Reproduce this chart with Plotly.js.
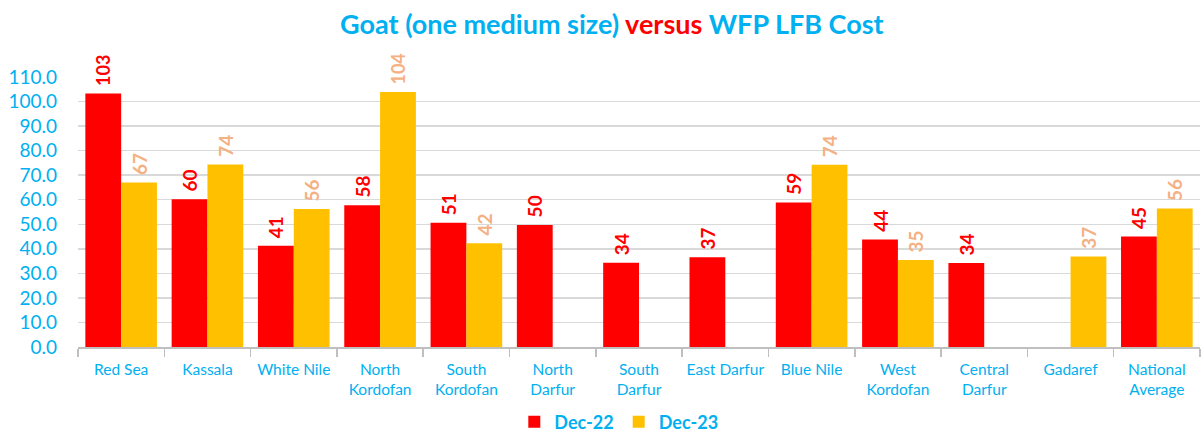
<!DOCTYPE html>
<html>
<head>
<meta charset="utf-8">
<script src="https://cdn.plot.ly/plotly-3.0.1.min.js"></script>
<style>html,body{margin:0;padding:0;background:#fff;}#chart{width:1202px;height:433px;}</style>
</head>
<body>
<div id="chart"></div>
<script>
const categories = ["Red Sea", "Kassala", "White Nile", "North<br>Kordofan", "South<br>Kordofan", "North<br>Darfur", "South<br>Darfur", "East Darfur", "Blue Nile", "West<br>Kordofan", "Central<br>Darfur", "Gadaref", "National<br>Average"];
const dec22 = [103.3, 60.2, 41.2, 57.8, 50.6, 49.7, 34.3, 36.6, 58.9, 43.8, 34.2, null, 45.0];
const dec23 = [67.0, 74.4, 56.2, 103.9, 42.3, null, null, null, 74.2, 35.4, null, 36.9, 56.4];
const yTicks = [0, 10, 20, 30, 40, 50, 60, 70, 80, 90, 100, 110];

const cyan = "#00B0F0";
const FONT = "Lato, 'Open Sans', sans-serif";

function labels(arr) {
  return arr.map(v => v === null ? "" : "\u00a0" + Math.round(v));
}

const traces = [
  {
    type: "bar", name: "Dec-22", x: categories, y: dec22,
    marker: {color: "#FF0000"},
    text: labels(dec22), textposition: "outside", textangle: -90,
    textfont: {family: FONT, size: 19, color: "#FF0000", weight: "bold"},
    cliponaxis: false, hoverinfo: "x+y"
  },
  {
    type: "bar", name: "Dec-23", x: categories, y: dec23,
    marker: {color: "#FFC000"},
    text: labels(dec23), textposition: "outside", textangle: -90,
    textfont: {family: FONT, size: 19, color: "#F4B183", weight: "bold"},
    cliponaxis: false, hoverinfo: "x+y"
  }
];

const layout = {
  width: 1202, height: 433,
  margin: {l: 78, r: 2, t: 77, b: 86},
  paper_bgcolor: "#fff", plot_bgcolor: "#fff",
  font: {family: FONT, color: cyan},
  title: {
    text: "Goat (one medium size) <span style='color:#FF0000'>versus</span> WFP LFB Cost",
    font: {family: FONT, size: 27, color: cyan, weight: "bold"},
    x: 0.509, xref: "container", xanchor: "center", y: 1 - 25/433, yanchor: "middle", yref: "container"
  },
  barmode: "group", bargap: 0.17, bargroupgap: 0,
  xaxis: {
    type: "category", tickson: "boundaries", ticks: "outside", ticklen: 8,
    tickcolor: "#BFBFBF", tickwidth: 1.5, tickangle: 0,
    showline: true, linecolor: "#BFBFBF", linewidth: 1.5,
    tickfont: {family: FONT, size: 15.5, color: cyan},
    ticklabelstandoff: 8,
    showgrid: false, automargin: false
  },
  yaxis: {
    range: [0, 110], tickvals: yTicks, tickformat: ".1f",
    tickfont: {family: FONT, size: 19, color: cyan},
    showgrid: true, gridcolor: "#D9D9D9", gridwidth: 1.5,
    zeroline: false, showline: false, ticks: "", ticklabelstandoff: 20,
    automargin: false
  },
  showlegend: true,
  legend: {
    orientation: "h", x: 0.482, xanchor: "center",
    yref: "container", y: 1 - 422/433, yanchor: "middle",
    font: {family: FONT, size: 18, color: cyan, weight: "bold"},
    itemwidth: 30, traceorder: "normal", tracegroupgap: 0
  }
};

Plotly.newPlot("chart", traces, layout, {displayModeBar: false, staticPlot: true});
</script>
</body>
</html>
